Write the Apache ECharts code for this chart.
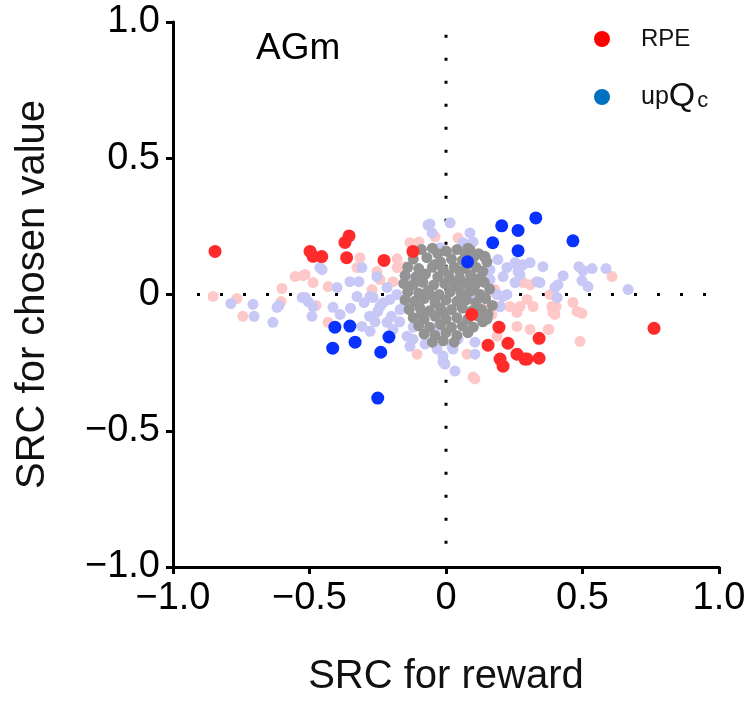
<!DOCTYPE html>
<html><head><meta charset="utf-8">
<script src="https://cdn.jsdelivr.net/npm/echarts@6/dist/echarts.min.js"></script>
<style>html,body{margin:0;padding:0;background:#fff}#c{width:749px;height:702px}</style>
</head><body><div id="c"></div>
<script>
const tickValues = [-1, -0.5, 0, 0.5, 1];
const tickLabels = ['\u22121.0', '\u22120.5', '0', '0.5', '1.0'];
const xTitle = 'SRC for reward';
const yTitle = 'SRC for chosen value';
const panelTitle = 'AGm';

const rpeSig = [[-0.846,0.158],[-0.498,0.158],[-0.487,0.14],[-0.455,0.139],[-0.355,0.215],[-0.37,0.191],[-0.364,0.135],[-0.227,0.125],[-0.121,0.158],[0.094,-0.073],[0.194,-0.12],[0.154,-0.186],[0.227,-0.179],[0.198,-0.237],[0.209,-0.263],[0.26,-0.219],[0.289,-0.237],[0.297,-0.237],[0.341,-0.161],[0.341,-0.234],[0.762,-0.124]];
const upqSig = [[0.204,0.252],[0.264,0.235],[0.329,0.281],[0.171,0.19],[0.264,0.161],[0.079,0.12],[0.465,0.197],[-0.407,-0.12],[-0.352,-0.116],[-0.333,-0.175],[-0.415,-0.197],[-0.209,-0.156],[-0.239,-0.212],[-0.25,-0.38]];
const rpeNon = [[-0.853,-0.007],[-0.766,-0.015],[-0.744,-0.08],[-0.601,0.022],[-0.604,-0.026],[-0.553,0.066],[-0.524,0.069],[-0.487,0.044],[-0.516,0.073],[-0.476,-0.04],[-0.432,-0.102],[-0.432,0.029],[-0.315,0.135],[-0.326,0.099],[-0.253,0.084],[-0.179,0.131],[-0.179,0.099],[-0.15,0.102],[-0.132,0.19],[-0.099,0.193],[-0.04,0.212],[0.044,0.208],[-0.194,0.047],[-0.271,0.018],[-0.242,0.055],[0.143,-0.011],[0.15,-0.044],[0.179,0.018],[0.234,-0.044],[0.26,-0.066],[0.26,-0.117],[0.168,-0.073],[0.187,-0.153],[0.077,-0.219],[-0.106,-0.219],[0.099,-0.303],[0.282,0.044],[0.297,-0.018],[0.172,0.011],[0.319,-0.044],[0.308,0.036],[0.403,-0.044],[0.198,-0.044],[0.271,-0.044],[0.308,-0.128],[0.374,-0.128],[0.392,-0.066],[0.106,-0.31],[0.608,0.066],[0.381,0.0],[0.388,-0.044],[0.465,-0.029],[0.48,-0.062],[0.498,-0.069],[0.399,-0.073],[0.377,-0.128],[0.491,-0.172],[0.161,-0.066]];
const upqNon = [[-0.788,-0.033],[-0.707,-0.036],[-0.703,-0.08],[-0.619,-0.047],[-0.612,-0.04],[-0.634,-0.102],[-0.527,-0.011],[-0.505,-0.026],[-0.487,-0.044],[-0.491,-0.08],[-0.462,0.099],[-0.454,0.091],[-0.066,0.255],[-0.051,0.226],[-0.308,0.099],[-0.352,0.047],[-0.319,0.047],[-0.253,0.066],[-0.516,-0.011],[-0.399,0.026],[-0.326,-0.007],[-0.278,-0.007],[-0.216,0.026],[-0.414,-0.047],[-0.388,-0.073],[-0.308,-0.117],[-0.278,-0.135],[-0.132,-0.19],[-0.077,-0.182],[-0.033,-0.2],[-0.059,0.259],[0.015,0.263],[0.088,0.226],[0.099,0.193],[0.062,0.19],[-0.022,0.172],[0.004,0.157],[0.143,0.135],[0.161,0.091],[0.19,0.128],[0.223,0.099],[0.26,0.109],[0.264,0.084],[0.209,0.066],[0.161,0.055],[0.187,0.0],[0.209,-0.007],[0.198,-0.044],[0.106,0.055],[0.095,-0.011],[-0.267,-0.011],[-0.242,-0.044],[-0.205,-0.018],[-0.168,-0.055],[-0.216,-0.102],[-0.194,-0.128],[-0.143,-0.153],[-0.121,-0.164],[-0.033,-0.12],[-0.011,-0.226],[0.022,-0.193],[0.044,-0.164],[0.106,-0.175],[0.106,-0.219],[-0.004,-0.255],[0.033,-0.281],[-0.132,0.055],[0.253,0.117],[0.282,0.109],[0.308,0.117],[0.355,0.102],[0.271,0.073],[0.253,0.044],[0.333,0.047],[0.223,0.0],[0.429,0.069],[0.487,0.102],[0.502,0.088],[0.535,0.095],[0.586,0.095],[0.498,0.051],[0.52,0.029],[0.41,0.036],[0.399,0.026],[0.407,-0.011],[0.667,0.018],[0.344,0.044],[0.026,-0.2],[-0.011,-0.248],[-0.3,-0.03],[-0.25,-0.062],[-0.2,-0.08],[-0.17,-0.1],[-0.28,-0.08],[-0.35,-0.05],[-0.23,-0.03],[-0.15,-0.03],[-0.18,0.0],[-0.12,-0.12],[-0.1,-0.085],[-0.26,-0.1],[-0.14,0.01],[-0.125,-0.04]];
const gray = [[-0.09,0.165],[-0.05,0.17],[0.0,0.16],[0.04,0.165],[0.08,0.17],[0.12,0.15],[0.14,0.14],[-0.12,0.13],[-0.07,0.135],[-0.02,0.12],[0.02,0.13],[0.06,0.125],[0.1,0.135],[0.15,0.12],[-0.14,0.1],[-0.1,0.095],[-0.05,0.1],[-0.01,0.09],[0.03,0.1],[0.07,0.095],[0.11,0.1],[0.135,0.085],[-0.15,0.07],[-0.11,0.065],[-0.075,0.075],[-0.03,0.065],[0.01,0.07],[0.05,0.06],[0.09,0.07],[0.125,0.06],[-0.155,0.04],[-0.12,0.035],[-0.085,0.045],[-0.045,0.035],[-0.005,0.04],[0.035,0.03],[0.07,0.04],[0.105,0.03],[0.14,0.045],[-0.14,0.01],[-0.1,0.005],[-0.065,0.015],[-0.025,0.0],[0.015,0.01],[0.055,0.005],[0.09,0.012],[0.125,0.0],[-0.15,-0.02],[-0.115,-0.025],[-0.08,-0.015],[-0.04,-0.03],[0.0,-0.02],[0.04,-0.025],[0.075,-0.02],[0.11,-0.03],[0.145,-0.015],[-0.135,-0.055],[-0.095,-0.05],[-0.06,-0.06],[-0.02,-0.05],[0.02,-0.055],[0.06,-0.05],[0.095,-0.06],[0.13,-0.055],[-0.12,-0.085],[-0.08,-0.09],[-0.04,-0.08],[0.0,-0.09],[0.04,-0.085],[0.08,-0.09],[0.12,-0.08],[-0.1,-0.115],[-0.06,-0.12],[-0.02,-0.11],[0.02,-0.12],[0.06,-0.115],[0.1,-0.12],[-0.08,-0.145],[-0.04,-0.15],[0.0,-0.14],[0.04,-0.15],[0.08,-0.14],[-0.05,-0.175],[-0.01,-0.17],[0.03,-0.175],[-0.03,0.15],[0.07,0.15],[0.02,0.05],[-0.06,0.0],[-0.01,-0.07],[0.1,0.06],[-0.09,-0.07],[0.05,0.085],[-0.04,0.11],[0.16,0.02],[0.17,-0.04],[0.15,-0.09],[0.143,0.139],[0.088,0.164],[0.135,-0.1],[0.154,-0.073]];
const zeroH = [[-0.912,0],[0.955,0]];
const zeroV = [[0,-0.915],[0,0.96]];

const FONT = 'Liberation Sans';
const chart = echarts.init(document.getElementById('c'), null, {renderer:'canvas'});
const lab = v => { const i = tickValues.findIndex(t => Math.abs(t - v) < 1e-9); return i >= 0 ? tickLabels[i] : ''; };
const axisCommon = {
  type:'value', min:-1, max:1, interval:0.5,
  axisLine:{show:true, onZero:false, lineStyle:{color:'#000', width:3}},
  axisTick:{show:true, length:7, lineStyle:{color:'#000', width:3}},
  splitLine:{show:false},
  axisLabel:{formatter:lab, color:'#000', fontFamily:FONT, fontSize:38, margin:13},
  nameLocation:'middle',
  nameTextStyle:{color:'#111', fontFamily:FONT, fontSize:40}
};
const dotted = {type:[3,20], color:'#000', width:3};
chart.setOption({
  animation:false,
  backgroundColor:'#fff',
  grid:{left:173, right:30, top:22, bottom:132},
  title:{text:panelTitle, left:251, top:25, textStyle:{fontFamily:FONT, fontSize:37, fontWeight:'normal', color:'#000'}},
  legend:{
    orient:'vertical', left:589, top:22, itemWidth:16, itemHeight:16, itemGap:-9, icon:'circle',
    data:[{name:'RPE', itemStyle:{color:'#ff0000'}}, {name:'upQc', itemStyle:{color:'#0070c0'}}],
    formatter: n => n === 'upQc' ? '{u|up}{q|Q}{s|c}' : '{r|RPE}',
    textStyle:{fontFamily:FONT, color:'#111', padding:[0,0,0,26],
      rich:{
        r:{fontFamily:FONT, fontSize:24, lineHeight:30, color:'#111'},
        u:{fontFamily:FONT, fontSize:25, lineHeight:30, color:'#111'},
        q:{fontFamily:FONT, fontSize:34, lineHeight:30, color:'#111'},
        s:{fontFamily:FONT, fontSize:22, lineHeight:22, color:'#111', verticalAlign:'bottom', padding:[48,0,0,2]}
      }}
  },
  xAxis:Object.assign({}, axisCommon, {name:xTitle, nameGap:90}),
  yAxis:Object.assign({}, axisCommon, {name:yTitle, nameGap:120}),
  series:[
    {type:'line', data:zeroH, symbol:'none', lineStyle:dotted, silent:true, z:1},
    {type:'line', data:zeroV, symbol:'none', lineStyle:dotted, silent:true, z:1},
    {name:'rpeNon', type:'scatter', data:rpeNon, symbolSize:11, itemStyle:{color:'#ffc8c8', opacity:1}, z:2},
    {name:'upqNon', type:'scatter', data:upqNon, symbolSize:11, itemStyle:{color:'#c8c8f6', opacity:1}, z:3},
    {name:'gray', type:'scatter', data:gray, symbolSize:11, itemStyle:{color:'#939393', opacity:1}, z:4},
    {name:'RPE', type:'scatter', data:rpeSig, symbolSize:13, itemStyle:{color:'#ff2a2a', opacity:1}, z:5},
    {name:'upQc', type:'scatter', data:upqSig, symbolSize:13, itemStyle:{color:'#0a32ff', opacity:1}, z:6}
  ]
});
</script></body></html>
